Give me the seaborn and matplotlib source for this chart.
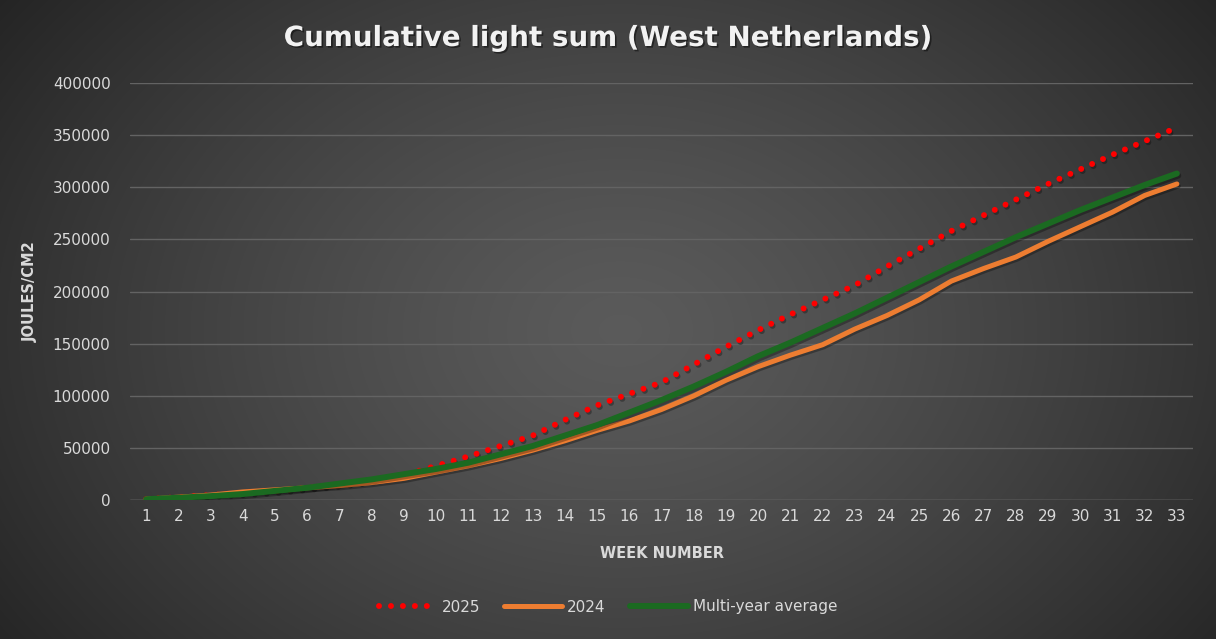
import numpy as np
import pandas as pd
import matplotlib
matplotlib.use("Agg")
import matplotlib.pyplot as plt
import matplotlib.patheffects as pe
import seaborn as sns

weeks = list(range(1, 34))
y2025 = [1000, 3000, 5000, 7000, 9000, 12000, 15000, 19000, 24000, 33000,
         42000, 52000, 62000, 77000, 91000, 102000, 113000, 130000, 147000, 163000,
         178000, 192000, 206000, 224000, 241000, 258000, 273000, 288000, 303000, 317000,
         331000, 344000, 357000]
y2024 = [1000, 3000, 5000, 8000, 10000, 12000, 14000, 17000, 21000, 27000,
         33000, 40000, 48000, 57000, 67000, 76000, 87000, 100000, 115000, 128000,
         139000, 149000, 164000, 177000, 192000, 210000, 222000, 233000, 248000, 262000,
         276000, 292000, 303000]
yavg = [1000, 2500, 4000, 6000, 9000, 12000, 16000, 20000, 25000, 30000,
        36000, 44000, 52000, 62000, 72000, 84000, 96000, 109000, 123000, 138000,
        151000, 165000, 179000, 194000, 209000, 224000, 238000, 252000, 265000, 278000,
        290000, 302000, 313000]
series_names = ["2025", "2024", "Multi-year average"]
yticks = [0, 50000, 100000, 150000, 200000, 250000, 300000, 350000, 400000]

df = pd.DataFrame({"week": weeks * 3,
                   "value": y2025 + y2024 + yavg,
                   "series": [series_names[0]] * 33 + [series_names[1]] * 33 + [series_names[2]] * 33})

sns.set_theme(style="dark")
plt.rcParams['font.family'] = ['DejaVu Sans']
plt.rcParams['lines.scale_dashes'] = False

W, H = 1216, 639
fig = plt.figure(figsize=(W / 100, H / 100), dpi=100)

# radial gradient background
bg = fig.add_axes([0, 0, 1, 1], zorder=-10)
yy, xx = np.mgrid[0:H, 0:W]
cx, cy = 620, 330
r = np.sqrt(((xx - cx) / 760.0) ** 2 + ((yy - cy) / 560.0) ** 2)
lum = 0.355 - 0.21 * np.clip(r, 0, 1) ** 1.3
img = np.dstack([lum, lum, lum])
bg.imshow(img, aspect="auto", extent=[0, 1, 0, 1])
bg.axis("off")

ax = fig.add_axes([130 / W, 1 - 500.3 / H, (1193 - 130) / W, (500.3 - 82.7) / H])
ax.set_facecolor("none")

shadow = [pe.SimpleLineShadow(offset=(1.0, -1.5), alpha=0.3, shadow_color="black"), pe.Normal()]

colors = {"2025": "#FF0000", "2024": "#ED7D31", "Multi-year average": "#1B6A21"}
widths = {"2025": 4.3, "2024": 3.6, "Multi-year average": 4.3}
for name in series_names:
    sub = df[df["series"] == name]
    sns.lineplot(data=sub, x="week", y="value", ax=ax, color=colors[name],
                 linewidth=widths[name], label=name, legend=False)
lines = ax.get_lines()
for ln in lines:
    ln.set_solid_capstyle("round")
    ln.set_solid_joinstyle("round")
# dotted 2025 line
lines[0].set_linestyle((0, (0.01, 8.6)))
lines[0].set_dash_capstyle("round")

ax.set_xlim(0.5, 33.5)
ax.set_ylim(0, 400000)
ax.set_xticks(weeks)
ax.set_xticklabels([str(w) for w in weeks])
ax.set_yticks(yticks)
ax.set_yticklabels([str(v) for v in yticks])
ax.tick_params(axis="both", colors="#D9D9D9", labelsize=11, length=0)
ax.tick_params(axis="y", pad=14)
ax.tick_params(axis="x", pad=6)
ax.grid(axis="y", color="#636363", linewidth=1.0)
ax.grid(axis="x", visible=False)
for s in ax.spines.values():
    s.set_visible(False)
ax.axhline(0, color="#777777", linewidth=1.0, zorder=0)

ax.set_xlabel("WEEK NUMBER", color="#D9D9D9", fontsize=10.5, fontweight="bold", labelpad=16)
ax.set_ylabel("JOULES/CM2", color="#D9D9D9", fontsize=10.5, fontweight="bold")
ax.yaxis.set_label_coords(-(130 - 38) / (1193 - 130), 0.5)

fig.text(0.5, 1 - 38 / H, "Cumulative light sum (West Netherlands)", ha="center", va="center",
         color="#F2F2F2", fontsize=20, fontweight="bold",
         path_effects=[pe.withSimplePatchShadow(offset=(1.2, -1.2), alpha=0.45, shadow_rgbFace="black")])

handles, labels = ax.get_legend_handles_labels()
leg = fig.legend(handles[:3], labels[:3], loc="center", bbox_to_anchor=(0.5, 1 - 607 / H), ncol=3,
                 frameon=False, fontsize=11, labelcolor="#D9D9D9", handlelength=3.8,
                 columnspacing=1.6, handletextpad=0.3)

# shadows only on the plotted lines, not the legend handles
for ln in lines:
    ln.set_path_effects(shadow)

fig.savefig("out.png", dpi=100)
